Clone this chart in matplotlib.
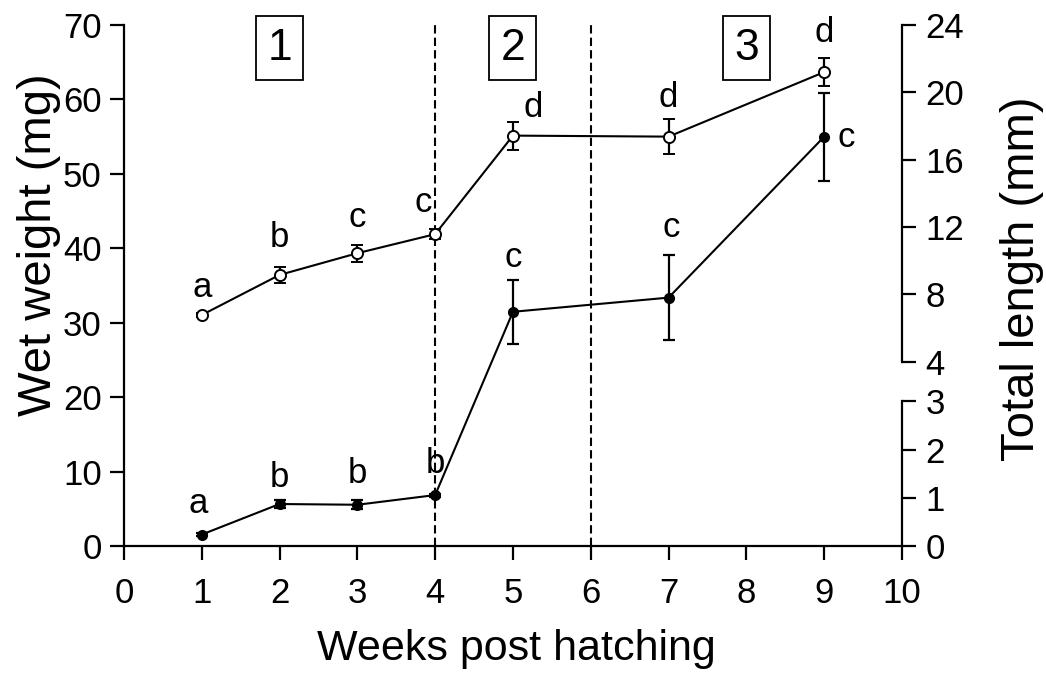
import numpy as np
import matplotlib.pyplot as plt

plt.rcParams['font.family'] = ['Liberation Sans', 'DejaVu Sans']

# data
weeks = [1, 2, 3, 4, 5, 7, 9]
weight_mean = [1.6, 5.7, 5.6, 6.9, 31.5, 33.4, 55.0]
weight_err = [0.2, 0.6, 0.6, 0.2, 4.3, 5.7, 5.9]
weight_letters = ['a', 'b', 'b', 'b', 'c', 'c', 'c']
length_mean = [6.78, 9.16, 10.45, 11.58, 17.43, 17.37, 21.2]
length_err = [0.1, 0.5, 0.5, 0.3, 0.83, 1.04, 0.82]
length_letters = ['a', 'b', 'c', 'c', 'd', 'd', 'd']
phase_labels = ['1', '2', '3']
phase_x = [2, 5, 8]
phase_bounds = [4, 6]

# letter offsets in pixels from the marker (text baseline)
weight_off = [(-4, 22), (0, 17), (0, 22), (0, 22), (0, 45), (3, 61), (22, -10)]
length_off = [(0, 18), (0, 28), (0, 26), (-12, 22), (20, 19), (0, 30), (0, 30)]

tick_fs = 25
letter_fs = 25

fig = plt.figure(figsize=(10.46, 6.74), dpi=100)
ax = fig.add_axes([0.1185, 0.1892, 0.7438, 0.7738])

ax.set_xlim(0, 10)
ax.set_ylim(0, 70)
ax.set_xticks(range(0, 11))
ax.set_yticks(range(0, 71, 10))
for s in ['top', 'right']:
    ax.spines[s].set_visible(False)
for s in ['left', 'bottom']:
    ax.spines[s].set_linewidth(1.6)
ax.tick_params(axis='both', direction='out', length=10, width=1.6, labelsize=tick_fs)
ax.tick_params(axis='y', pad=6)
ax.tick_params(axis='x', pad=12)

# phase boundaries
ax.vlines(phase_bounds, 0, 70, colors='black', linestyles=(0, (4, 2)), lw=1.5)
for lab, px in zip(phase_labels, phase_x):
    ax.text(px, 66.9, lab, ha='center', va='center', fontsize=32,
            bbox=dict(boxstyle='square,pad=0.25', fc='white', ec='black', lw=1.3))

# wet weight (filled)
ax.errorbar(weeks, weight_mean, yerr=weight_err, fmt='-o', color='black',
            mfc='black', ms=7, lw=1.5, elinewidth=1.6, capsize=4.3, capthick=1.6)
for w, m, t, o in zip(weeks, weight_mean, weight_letters, weight_off):
    ax.annotate(t, (w, m), xytext=o, textcoords='offset pixels',
                ha='center', va='baseline', fontsize=letter_fs)

# right axis, top part: total length
ax2 = ax.twinx()
ax2.set_ylim(-6.96, 24)
ax2.set_yticks(range(4, 25, 4))
for s in ['top', 'left', 'bottom']:
    ax2.spines[s].set_visible(False)
ax2.spines['right'].set_bounds(4, 24)
ax2.spines['right'].set_linewidth(1.6)
ax2.tick_params(axis='y', direction='out', length=10, width=1.6, labelsize=tick_fs, pad=7)

ax2.errorbar(weeks, length_mean, yerr=length_err, fmt='-o', color='black',
             mfc='white', mew=1.4, ms=8, lw=1.5, elinewidth=1.6, capsize=4.3, capthick=1.6)
for w, m, t, o in zip(weeks, length_mean, length_letters, length_off):
    ax2.annotate(t, (w, m), xytext=o, textcoords='offset pixels',
                 ha='center', va='baseline', fontsize=letter_fs)

# right axis, lower part 0-3
ax3 = ax.twinx()
ax3.set_ylim(0, 10.77)
ax3.set_yticks(range(0, 4))
for s in ['top', 'left', 'bottom']:
    ax3.spines[s].set_visible(False)
ax3.spines['right'].set_bounds(0, 3)
ax3.spines['right'].set_linewidth(1.6)
ax3.tick_params(axis='y', direction='out', length=10, width=1.6, labelsize=tick_fs, pad=7)

fig.text(0.037, 0.6365, 'Wet weight (mg)', rotation=90, ha='center', va='center', fontsize=34)
fig.text(0.977, 0.586, 'Total length (mm)', rotation=90, ha='center', va='center', fontsize=34)
fig.text(0.494, 0.0208, 'Weeks post hatching', ha='center', va='baseline', fontsize=31)

fig.savefig('out.png', dpi=100)
